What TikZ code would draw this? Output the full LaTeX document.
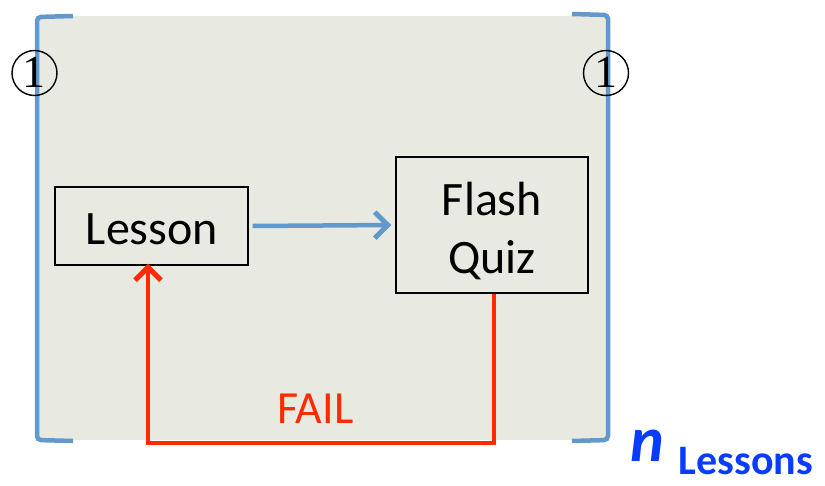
\documentclass[tikz,border=0pt]{standalone}
\usepackage{fontspec}
\setmainfont{Carlito}
\usetikzlibrary{arrows.meta}
\definecolor{bgc}{HTML}{E8EAE2}
\definecolor{brk}{HTML}{6199CC}
\definecolor{failred}{HTML}{FF2A00}
\definecolor{nblue}{HTML}{0A3CFF}
\tikzset{
  bracket/.style={draw=brk,line width=4.5pt,rounded corners=4pt},
  boxnode/.style={draw=black,line width=1.4pt,fill=bgc,inner sep=0pt},
  boxtext/.style={anchor=base,inner sep=0pt,font=\fontsize{48}{58}\selectfont},
  circnum/.style={circle,draw=black,line width=1.4pt,minimum size=45pt,inner sep=0pt,font=\fontsize{46}{46}\selectfont},
  tipbarb/.style={-{Straight Barb[length=13pt,width=26pt,line width=5pt]}},
}
\begin{document}
\begin{tikzpicture}[x=1pt,y=-1pt]
\useasboundingbox (0,0) rectangle (825,485);
\fill[bgc] (36,16) rectangle (608,440);
\draw[bracket] (73,16) -- (37,17) -- (37,440) -- (73,441);
\draw[bracket] (572,14) -- (608,15) -- (608,440) -- (572,441);
\node[circnum] (c1) at (34.5,73) {\fontspec{Liberation Serif}\raisebox{1pt}{1}};
\node[circnum] (c2) at (606,73) {\fontspec{Liberation Serif}\raisebox{1pt}{1}};
\node[boxnode,minimum width=193pt,minimum height=78pt] (lesson) at (151.5,226) {};
\node[boxtext] (lessontext) at (152,244) {Lesson};
\node[boxnode,minimum width=192pt,minimum height=136pt] (quiz) at (492,225) {};
\node[boxtext] (flashtext) at (492,215) {Flash};
\node[boxtext] (quiztext) at (492,273) {Quiz};
\draw[draw=brk,line width=4.5pt,tipbarb] ([xshift=4pt]lesson.east) -- ([xshift=-4pt]quiz.west);
\coordinate (q) at (494,443);
\draw[failred,line width=4.5pt,tipbarb] (quiz.south -| q) -- (q) -- (q -| 148,0) -- ([yshift=2pt]lesson.south -| 148,0);
\node[text=failred,anchor=base,inner sep=0pt,font=\fontsize{46}{46}\selectfont] (fail) at (315.5,423) {FAIL};
\node[text=nblue,anchor=base,inner sep=0pt,font=\bfseries\itshape\fontsize{64}{64}\selectfont] (n) at (647,461) {n};
\node[text=nblue,anchor=base,inner sep=0pt,text depth=0pt,font=\bfseries\fontsize{42}{42}\selectfont] (les) at (746,474) {Lessons};
\end{tikzpicture}
\end{document}
